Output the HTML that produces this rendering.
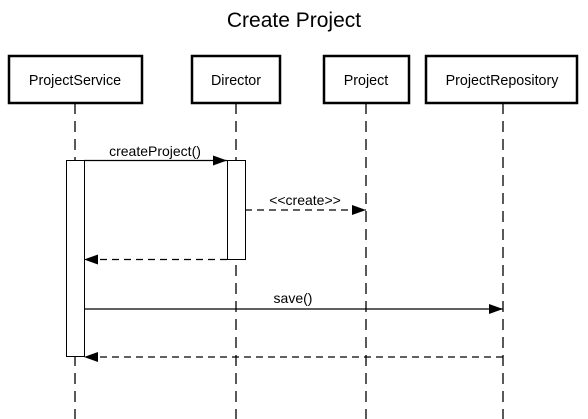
<!DOCTYPE html>
<html><head><style>body{margin:0;background:#fff}svg{display:block}text{font-family:"Liberation Sans",Arial,sans-serif;fill:#000}</style></head>
<body>
<svg width="588" height="419" viewBox="0 0 588 419" xmlns="http://www.w3.org/2000/svg">
<defs><marker id="a" markerWidth="14" markerHeight="10" refX="14" refY="5" orient="auto" markerUnits="userSpaceOnUse"><path d="M0,0 L14,5 L0,10 z" fill="#000"/></marker></defs>
<text x="294" y="27" font-size="21" text-anchor="middle">Create Project</text>
<g stroke="#000" stroke-width="1.3" stroke-dasharray="11,7">
<line x1="75" y1="103" x2="75" y2="419"/><line x1="236" y1="103" x2="236" y2="419"/>
<line x1="366" y1="103" x2="366" y2="419"/><line x1="503" y1="103" x2="503" y2="419"/>
</g>
<g fill="#fff" stroke="#000" stroke-width="2.5">
<rect x="9" y="56" width="133" height="47"/><rect x="192" y="56" width="88" height="47"/>
<rect x="324" y="56" width="85" height="47"/><rect x="426" y="56" width="151" height="47"/>
</g>
<g font-size="14.3" text-anchor="middle">
<text x="75" y="85">ProjectService</text><text x="236" y="85">Director</text>
<text x="366" y="85">Project</text><text x="502" y="85">ProjectRepository</text>
</g>
<g fill="#fff" stroke="#000" stroke-width="1">
<rect x="66.5" y="160.5" width="18" height="196"/><rect x="227.5" y="160.5" width="18" height="99"/>
</g>
<g stroke="#000" stroke-width="1.2" fill="none">
<line x1="84" y1="160.5" x2="227" y2="160.5" marker-end="url(#a)"/>
<line x1="245" y1="210" x2="366" y2="210" stroke-dasharray="7,5" marker-end="url(#a)"/>
<line x1="227" y1="259.5" x2="84" y2="259.5" stroke-dasharray="7,5" marker-end="url(#a)"/>
<line x1="84" y1="309" x2="503" y2="309" marker-end="url(#a)"/>
<line x1="503" y1="357" x2="84" y2="357" stroke-dasharray="7,5" marker-end="url(#a)"/>
</g>
<g font-size="14" text-anchor="middle">
<text x="155" y="156">createProject()</text>
<text x="305" y="205">&lt;&lt;create&gt;&gt;</text>
<text x="293" y="303">save()</text>
</g>
</svg>
</body></html>
